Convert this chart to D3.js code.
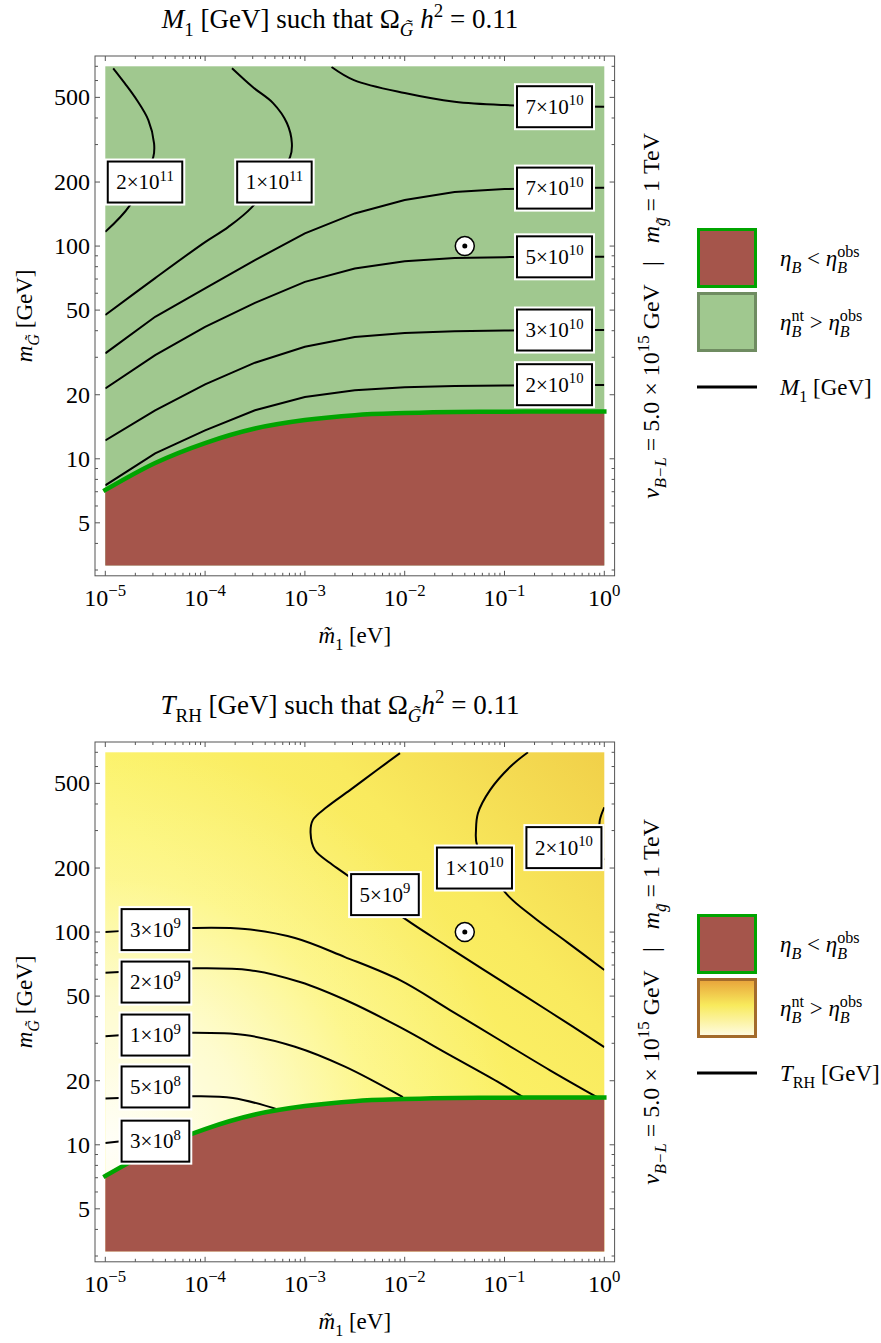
<!DOCTYPE html>
<html>
<head>
<meta charset="utf-8">
<script src="https://cdn.jsdelivr.net/npm/d3@7/dist/d3.min.js"></script>
<style>
    body { margin: 0; background: #fff; }
    svg text { font-family: "Liberation Serif", "DejaVu Serif", serif; fill: #000; }
</style>
</head>
<body>
<svg id="chart" width="881" height="1343"></svg>
<script>
// axis ranges and ticks
const xDomain = [1e-5, 1];
const yDomain = [3.15, 700];
const xMajorTicks = [1e-5, 1e-4, 1e-3, 1e-2, 1e-1, 1];
const xTickExponents = ["\u22125", "\u22124", "\u22123", "\u22122", "\u22121", "0"];
const yMajorTicks = [5, 10, 20, 50, 100, 200, 500];
const yMinorTicks = [3, 4, 6, 7, 8, 9, 30, 40, 60, 70, 80, 90, 300, 400, 600, 700];

// benchmark point [m1 (eV), mG (GeV)]
const benchmark = [0.04, 100];

// lower edge of the viable region (same in both panels)
const boundary = [[1e-5, 7.13], [3.16e-5, 9.55], [1e-4, 11.85], [3.16e-4, 13.87], [1e-3, 15.2], [3.16e-3, 16.04],
    [1e-2, 16.4], [3.16e-2, 16.6], [0.1, 16.63], [0.316, 16.7], [1, 16.7]];

// top panel: M1 [GeV] contours
const m1_2e10 = [[1e-5, 7.5], [3.16e-5, 10.6], [1e-4, 13.6], [3.16e-4, 16.9], [1e-3, 19.5], [3.16e-3, 21.0],
    [1e-2, 21.7], [3.16e-2, 22.0], [0.1, 22.1], [0.316, 22.2], [1, 22.2]];
const m1_3e10 = [[1e-5, 12.2], [3.16e-5, 16.9], [1e-4, 22.4], [3.16e-4, 28.3], [1e-3, 33.6], [3.16e-3, 37.4],
    [1e-2, 39.0], [3.16e-2, 39.8], [0.1, 40.1], [0.316, 40.3], [1, 40.3]];
const m1_5e10 = [[1e-5, 21.4], [3.16e-5, 30.7], [1e-4, 41.7], [3.16e-4, 54.1], [1e-3, 67.9], [3.16e-3, 78.5],
    [1e-2, 84.9], [3.16e-2, 87.8], [0.1, 88.7], [0.316, 89.1], [1, 89.1]];
const m1_7e10a = [[1e-5, 31.3], [3.16e-5, 46.5], [1e-4, 63.2], [3.16e-4, 85.9], [1e-3, 114.7], [3.16e-3, 142.4],
    [1e-2, 164.5], [3.16e-2, 179.4], [0.1, 185.3], [0.316, 187.3], [1, 187.9]];
const m1_7e10b = [[1.85e-3, 695], [3.1e-3, 603], [1e-2, 524], [3.16e-2, 477], [0.1, 460], [0.316, 455], [1, 452]];
const m1_1e11 = [[1e-5, 47.4], [3.16e-5, 70.7], [1e-4, 104.4], [1.7e-4, 122.8], [2.95e-4, 152.5], [7.1e-4, 262],
    [7.4e-4, 305], [6.6e-4, 379], [4.8e-4, 470], [3.0e-4, 559], [1.86e-4, 685]];
const m1_2e11 = [[1e-5, 116.7], [1.77e-5, 155.8], [3.03e-5, 263], [3.08e-5, 304], [2.7e-5, 391], [2.07e-5, 486],
    [1.57e-5, 582], [1.2e-5, 685]];

const m1Labels = [
    { base: "2", exp: "11", at: [2.5e-5, 200] },
    { base: "1", exp: "11", at: [4.95e-4, 200] },
    { base: "7", exp: "10", at: [0.317, 452] },
    { base: "7", exp: "10", at: [0.317, 187.3] },
    { base: "5", exp: "10", at: [0.317, 89] },
    { base: "3", exp: "10", at: [0.317, 40.3] },
    { base: "2", exp: "10", at: [0.317, 22.3] }
];

// bottom panel: T_RH [GeV] contours
const trh_3e8 = [[1e-5, 10.2], [3e-5, 10.8]];
const trh_5e8 = [[1e-5, 16.5], [7.06e-5, 16.9], [1.9e-4, 16.6], [5.6e-4, 14.55]];
const trh_1e9 = [[1e-5, 32.4], [7.06e-5, 33.6], [2.51e-4, 32.8], [7.96e-4, 28.9], [2.52e-3, 23.3], [9.6e-3, 16.75]];
const trh_2e9 = [[1e-5, 64.4], [7.06e-5, 67.5], [2.82e-4, 66.2], [8.93e-4, 58.2], [2.82e-3, 46.9], [8.97e-3, 35.7],
    [0.0284, 26.4], [0.0902, 19.5], [0.1535, 16.75]];
const trh_3e9 = [[1e-5, 100], [7.06e-5, 104.4], [2.51e-4, 103.3], [7.96e-4, 93.7], [2.52e-3, 76.3], [8.97e-3, 59.4],
    [0.0284, 43.0], [0.0902, 31.0], [0.286, 22.4], [0.845, 16.75]];
const trh_5e9 = [[8.97e-3, 694], [5.28e-3, 578], [2.83e-3, 465], [1.66e-3, 387], [1.2e-3, 336], [1.14e-3, 292],
    [1.26e-3, 243], [1.79e-3, 211], [2.83e-3, 181], [0.0102, 115], [0.0284, 84.1], [0.0902, 59.4], [0.286, 42.1], [1, 28.8]];
const trh_1e10 = [[0.172, 700], [0.1135, 597], [0.0716, 465], [0.0542, 362], [0.0518, 302], [0.053, 257],
    [0.101, 154], [0.193, 118], [0.423, 89.7], [1, 66.3]];
const trh_2e10 = [[1, 386], [0.902, 336], [0.891, 280], [0.902, 243], [1, 218]];

const trhLabels = [
    { base: "3", exp: "9", at: [3.18e-5, 102.7] },
    { base: "2", exp: "9", at: [3.18e-5, 58.2] },
    { base: "1", exp: "9", at: [3.18e-5, 32.8] },
    { base: "5", exp: "8", at: [3.18e-5, 18.7] },
    { base: "3", exp: "8", at: [3.18e-5, 10.4] },
    { base: "5", exp: "9", at: [6.34e-3, 150] },
    { base: "1", exp: "10", at: [0.05, 200] },
    { base: "2", exp: "10", at: [0.394, 249.5] }
];

const colors = {
    allowed: "#a0c88f",
    excluded: "#a5554b",
    edge: "#00a400",
    allowedEdge: "#6f8c61",
    trhEdge: "#a36b2b",
    frame: "#555"
};

const plot = { left: 105.3, top: 66.3, width: 499, height: 499.2, pad: 10.3 };
const panelShift = 686;

const svg = d3.select("#chart");
const defs = svg.append("defs");

const x = d3.scaleLog().domain(xDomain).range([plot.left, plot.left + plot.width]);
const y = d3.scaleLog().domain(yDomain).range([plot.top + plot.height, plot.top]);

defs.append("clipPath").attr("id", "plotClip")
    .append("rect")
    .attr("x", plot.left).attr("y", plot.top)
    .attr("width", plot.width).attr("height", plot.height);

// background shading of the T_RH panel: yellow ramp darkening to the upper right,
// fading to near white toward the lower left corner
const base = defs.append("linearGradient").attr("id", "trhBase")
    .attr("x1", 0).attr("y1", 1).attr("x2", 1).attr("y2", 0);
[[0, "#fdf87c"], [0.45, "#fcf46a"], [0.72, "#f9ea5e"], [1, "#f1d049"]]
    .forEach(s => base.append("stop").attr("offset", s[0]).attr("stop-color", s[1]));

const glow = defs.append("radialGradient").attr("id", "trhGlow")
    .attr("gradientUnits", "userSpaceOnUse")
    .attr("cx", x(1e-5)).attr("cy", y(10)).attr("r", 410);
[[0, 0.95], [0.35, 0.66], [0.65, 0.24], [1, 0]]
    .forEach(s => glow.append("stop").attr("offset", s[0]).attr("stop-color", "#fff").attr("stop-opacity", s[1]));

const key = defs.append("linearGradient").attr("id", "trhKey")
    .attr("x1", 0).attr("y1", 0).attr("x2", 0).attr("y2", 1);
[[0, "#e8a23a"], [0.45, "#f8ea5c"], [1, "#fffce6"]]
    .forEach(s => key.append("stop").attr("offset", s[0]).attr("stop-color", s[1]));

// text with sub/superscripts
function rich(text, parts, size) {
    let shift = 0, prev = null;
    parts.forEach(p => {
        const small = p.sub || p.sup;
        const target = p.sub ? size * 0.3 : p.sup ? -size * 0.4 : 0;
        const ts = text.append("tspan")
            .attr("font-size", small ? size * 0.7 : size)
            .attr("font-style", p.it ? "italic" : "normal")
            .attr("dy", target - shift)
            .text(p.t);
        if (p.back && prev) ts.attr("dx", -prev.node().getComputedTextLength());
        shift = target;
        prev = ts;
    });
    return text;
}

function drawLabel(g, d) {
    const lab = g.append("g").attr("transform", `translate(${x(d.at[0])},${y(d.at[1])})`);
    const halo = lab.append("rect").attr("fill", "#fff");
    const box = lab.append("rect").attr("fill", "#fff").attr("stroke", "#000").attr("stroke-width", 2);
    const t = lab.append("text").attr("text-anchor", "middle").attr("y", 7);
    rich(t, [{ t: d.base + "\u00d710" }, { t: d.exp, sup: true }], 21);
    const w = t.node().getBBox().width + 17, h = 41;
    halo.attr("x", -w / 2 - 3).attr("y", -h / 2 - 3).attr("width", w + 6).attr("height", h + 6);
    box.attr("x", -w / 2).attr("y", -h / 2).attr("width", w).attr("height", h);
}

function drawPanel(g, cfg) {
    const x0 = plot.left, x1 = plot.left + plot.width;
    const yb = plot.top + plot.height, yt = plot.top;

    cfg.fills.forEach(f => {
        g.append("rect")
            .attr("x", x0).attr("y", yt)
            .attr("width", plot.width).attr("height", plot.height)
            .attr("fill", f);
    });

    const straight = d3.line().x(d => x(d[0])).y(d => y(d[1]));
    const smooth = d3.line().x(d => x(d[0])).y(d => y(d[1])).curve(d3.curveCatmullRom.alpha(0.5));
    const lines = g.append("g").attr("clip-path", "url(#plotClip)");
    cfg.contours.forEach(c => {
        lines.append("path")
            .attr("d", (c.smooth ? smooth : straight)(c.pts))
            .attr("fill", "none")
            .attr("stroke", "#000")
            .attr("stroke-width", 2);
    });

    const area = d3.area()
        .x(d => x(d[0]))
        .y0(y(yDomain[0]))
        .y1(d => y(d[1]))
        .curve(d3.curveMonotoneX);
    g.append("path").attr("d", area(boundary)).attr("fill", colors.excluded);

    g.append("path")
        .attr("d", d3.line().x(d => x(d[0])).y(d => y(d[1])).curve(d3.curveMonotoneX)(boundary))
        .attr("fill", "none")
        .attr("stroke", colors.edge)
        .attr("stroke-width", 4.5)
        .attr("stroke-linecap", "square");

    cfg.labels.forEach(d => drawLabel(g, d));

    // benchmark marker
    g.append("circle")
        .attr("cx", x(benchmark[0])).attr("cy", y(benchmark[1])).attr("r", 9.5)
        .attr("fill", "#fff").attr("stroke", "#000").attr("stroke-width", 1.5);
    g.append("circle")
        .attr("cx", x(benchmark[0])).attr("cy", y(benchmark[1])).attr("r", 2.5)
        .attr("fill", "#000");

    // frame and ticks
    const fl = x0 - plot.pad, fr = x1 + plot.pad, ft = yt - plot.pad, fb = yb + plot.pad;
    const frame = g.append("g").attr("stroke", colors.frame).attr("stroke-width", 1);
    frame.append("rect")
        .attr("x", fl).attr("y", ft)
        .attr("width", fr - fl).attr("height", fb - ft)
        .attr("fill", "none");

    const xTicksAll = x.ticks().filter(v => v >= xDomain[0] * 0.999 && v <= xDomain[1] * 1.001);
    xTicksAll.forEach(v => {
        const major = xMajorTicks.some(m => Math.abs(m - v) / m < 1e-6);
        const len = major ? 5 : 3;
        frame.append("line").attr("x1", x(v)).attr("x2", x(v)).attr("y1", fb).attr("y2", fb - len);
        frame.append("line").attr("x1", x(v)).attr("x2", x(v)).attr("y1", ft).attr("y2", ft + len);
    });
    yMajorTicks.concat(yMinorTicks).forEach(v => {
        const len = yMajorTicks.includes(v) ? 5 : 3;
        frame.append("line").attr("y1", y(v)).attr("y2", y(v)).attr("x1", fl).attr("x2", fl + len);
        frame.append("line").attr("y1", y(v)).attr("y2", y(v)).attr("x1", fr).attr("x2", fr - len);
    });

    xMajorTicks.forEach((v, i) => {
        const t = g.append("text").attr("text-anchor", "middle").attr("x", x(v)).attr("y", fb + 30);
        rich(t, [{ t: "10" }, { t: xTickExponents[i], sup: true }], 24);
    });
    yMajorTicks.forEach(v => {
        g.append("text")
            .attr("text-anchor", "end")
            .attr("x", fl - 5).attr("y", y(v) + 8)
            .attr("font-size", 24)
            .text(v);
    });

    // axis titles
    rich(g.append("text").attr("text-anchor", "middle").attr("x", (x0 + x1) / 2).attr("y", fb + 67),
        [{ t: "m\u0303", it: true }, { t: "1", sub: true }, { t: "\u00a0[eV]" }], 23);
    rich(g.append("text").attr("text-anchor", "middle")
        .attr("transform", `translate(32,${(yt + yb) / 2}) rotate(-90)`),
        [{ t: "m", it: true }, { t: "G\u0303", sub: true, it: true }, { t: "\u00a0[GeV]" }], 23);

    rich(g.append("text").attr("text-anchor", "middle").attr("x", 340).attr("y", 28), cfg.title, 27);

    // side note
    rich(g.append("text").attr("text-anchor", "middle")
        .attr("transform", `translate(659,${(yt + yb) / 2}) rotate(-90)`),
        [{ t: "v", it: true }, { t: "B\u2212L", sub: true, it: true },
         { t: "\u00a0=\u00a05.0\u00a0\u00d7\u00a010" }, { t: "15", sup: true },
         { t: "\u00a0GeV\u00a0\u00a0\u00a0|\u00a0\u00a0\u00a0" }, { t: "m", it: true }, { t: "g\u0303", sub: true, it: true },
         { t: "\u00a0=\u00a01\u00a0TeV" }], 24);

    // legend
    const lx = 697, ly = 228, s = 60;
    g.append("rect")
        .attr("x", lx + 1.5).attr("y", ly + 1.5).attr("width", s - 3).attr("height", s - 3)
        .attr("fill", colors.excluded).attr("stroke", colors.edge).attr("stroke-width", 3);
    g.append("rect")
        .attr("x", lx + 1.5).attr("y", ly + s + 5.5).attr("width", s - 3).attr("height", s - 3)
        .attr("fill", cfg.keyFill).attr("stroke", cfg.keyEdge).attr("stroke-width", 3);
    g.append("line")
        .attr("x1", lx).attr("x2", lx + s).attr("y1", ly + 159).attr("y2", ly + 159)
        .attr("stroke", "#000").attr("stroke-width", 3);

    const tx = lx + 83;
    rich(g.append("text").attr("x", tx).attr("y", ly + 38),
        [{ t: "\u03b7", it: true }, { t: "B", sub: true, it: true }, { t: "\u00a0<\u00a0" },
         { t: "\u03b7", it: true }, { t: "B", sub: true, it: true }, { t: "obs", sup: true, back: true }], 23);
    rich(g.append("text").attr("x", tx).attr("y", ly + s + 42),
        [{ t: "\u03b7", it: true }, { t: "B", sub: true, it: true }, { t: "nt", sup: true, back: true }, { t: "\u00a0>\u00a0" },
         { t: "\u03b7", it: true }, { t: "B", sub: true, it: true }, { t: "obs", sup: true, back: true }], 23);
    rich(g.append("text").attr("x", tx).attr("y", ly + 167), cfg.keyLine, 23);
}

const topPanel = svg.append("g");
drawPanel(topPanel, {
    fills: [colors.allowed],
    contours: [
        { pts: m1_2e10 }, { pts: m1_3e10 }, { pts: m1_5e10 }, { pts: m1_7e10a },
        { pts: m1_7e10b, smooth: true }, { pts: m1_1e11, smooth: true }, { pts: m1_2e11, smooth: true }
    ],
    labels: m1Labels,
    title: [{ t: "M", it: true }, { t: "1", sub: true }, { t: "\u00a0[GeV] such that \u03a9" },
        { t: "G\u0303", sub: true, it: true }, { t: "\u00a0h", it: true }, { t: "2", sup: true }, { t: "\u00a0=\u00a00.11" }],
    keyFill: colors.allowed,
    keyEdge: colors.allowedEdge,
    keyLine: [{ t: "M", it: true }, { t: "1", sub: true }, { t: "\u00a0[GeV]" }]
});

const bottomPanel = svg.append("g").attr("transform", `translate(0,${panelShift})`);
drawPanel(bottomPanel, {
    fills: ["url(#trhBase)", "url(#trhGlow)"],
    contours: [trh_3e8, trh_5e8, trh_1e9, trh_2e9, trh_3e9, trh_5e9, trh_1e10, trh_2e10].map(p => ({ pts: p, smooth: true })),
    labels: trhLabels,
    title: [{ t: "T", it: true }, { t: "RH", sub: true }, { t: "\u00a0[GeV] such that \u03a9" },
        { t: "G\u0303", sub: true, it: true }, { t: "h", it: true }, { t: "2", sup: true }, { t: "\u00a0=\u00a00.11" }],
    keyFill: "url(#trhKey)",
    keyEdge: colors.trhEdge,
    keyLine: [{ t: "T", it: true }, { t: "RH", sub: true }, { t: "\u00a0[GeV]" }]
});
</script>
</body>
</html>
